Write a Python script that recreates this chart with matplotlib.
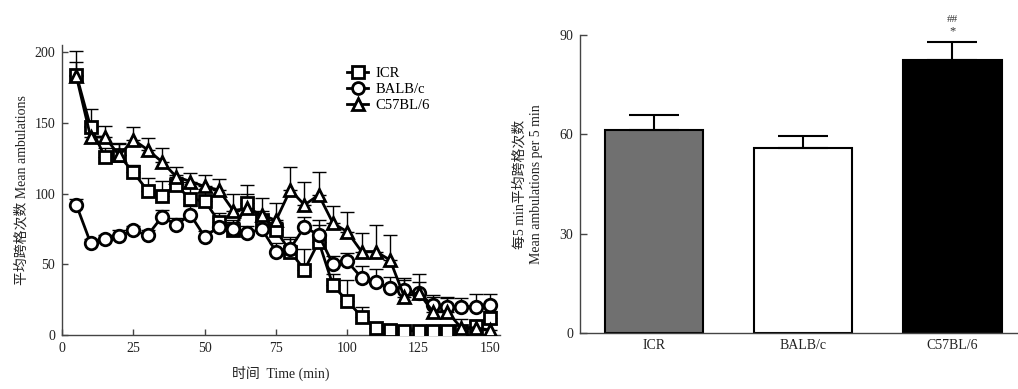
import matplotlib
matplotlib.use("Agg")
import matplotlib.pyplot as plt
import numpy as np

plt.rcParams['font.family'] = ['Liberation Serif', 'Noto Sans CJK SC', 'DejaVu Sans']

# ---- Data: time course ----
time_min = list(range(5, 155, 5))
icr_mean = [184, 147, 126, 127, 115, 102, 98, 106, 96, 95, 80, 74, 93, 81, 74, 59, 46, 66, 35, 24,
            13, 5, 3.5, 3, 3, 2.5, 3, 3, 6, 12]
icr_err = [17, 13, 6, 9, 5, 9, 11, 7, 8, 8, 6, 6, 13, 7, 6, 10, 15, 12, 8, 15,
           7, 3, 2, 2, 2, 1.5, 2, 2, 3, 5]
balb_mean = [92, 65, 68, 70, 74, 70.5, 83.5, 78, 85, 69.5, 76.5, 75, 72, 75, 59, 61, 76.5, 70.5, 50, 52,
             40.5, 37.5, 33, 32, 29.5, 21, 20, 20, 20, 21]
balb_err = [4, 3, 3, 4, 3, 4, 5, 5, 6, 4, 6, 6, 5, 6, 6, 7, 7, 11, 6, 6,
            8, 9, 8, 7, 8, 7, 6, 6, 9, 8]
c57_mean = [183, 140, 140, 127, 138, 131, 122.5, 112, 108.5, 105, 102.5, 88, 89.5, 85, 81, 102.5, 92, 99, 79, 73,
            59, 59, 53, 27, 30, 16.5, 16.5, 5, 5, 3.5]
c57_err = [10, 8, 8, 8, 9, 8, 10, 7, 6, 8, 7.5, 12, 10, 12, 12, 16.5, 16, 16.5, 12, 14,
           13, 19, 18, 13, 13, 10, 10, 6, 5, 4]

# ---- Data: 5-min average ----
strains = ['ICR', 'BALB/c', 'C57BL/6']
avg_mean = [61.3, 56.0, 82.5]
avg_err = [4.6, 3.4, 5.5]
bar_colors = ['#707070', '#ffffff', '#000000']

fig = plt.figure(figsize=(10.18, 3.89), dpi=100)

# ---------------- Left: time course ----------------
ax1 = fig.add_axes([0.061, 0.139, 0.430, 0.745])
series = [
    ('ICR', icr_mean, icr_err, 's'),
    ('BALB/c', balb_mean, balb_err, 'o'),
    ('C57BL/6', c57_mean, c57_err, '^'),
]
for label, m, e, mk in series:
    ax1.errorbar(time_min, m, yerr=[np.zeros(len(e)), e], fmt='none', ecolor='black',
                 elinewidth=1.0, capsize=5, capthick=1.0, zorder=2)
    ax1.plot(time_min, m, color='black', lw=2.0, marker=mk, markersize=9,
             markerfacecolor='white', markeredgecolor='black', markeredgewidth=2.0,
             label=label, zorder=3)

ax1.set_xlim(0, 153.5)
ax1.set_ylim(0, 205)
ax1.set_xticks([0, 25, 50, 75, 100, 125, 150])
ax1.set_yticks([0, 50, 100, 150, 200])
for s in ['top', 'right']:
    ax1.spines[s].set_visible(False)
for s in ['left', 'bottom']:
    ax1.spines[s].set_color('#444444')
    ax1.spines[s].set_linewidth(1.0)
ax1.tick_params(direction='in', length=4, width=1, colors='#444444', labelcolor='#222222',
                labelsize=10, pad=5)
ax1.set_xlabel('时间  Time (min)', fontsize=10, labelpad=8, color='#222222')
ax1.set_ylabel('平均跨格次数 Mean ambulations', fontsize=10, labelpad=4, color='#222222')
leg = ax1.legend(loc='upper left', bbox_to_anchor=(0.62, 0.97), frameon=False, fontsize=10.5,
                 handlelength=1.5, handletextpad=0.5, labelspacing=0.2, markerscale=0.95)

# ---------------- Right: bar chart ----------------
ax2 = fig.add_axes([0.570, 0.144, 0.430, 0.766])
xpos = np.arange(len(strains))
ax2.bar(xpos, avg_mean, width=0.66, color=bar_colors, edgecolor='black', linewidth=1.5, zorder=2)
ax2.errorbar(xpos, avg_mean, yerr=[np.zeros(3), avg_err], fmt='none', ecolor='black',
             elinewidth=1.5, capsize=18, capthick=1.5, zorder=3)
ax2.set_xlim(-0.495, 2.44)
ax2.set_ylim(0, 90)
ax2.set_yticks([0, 30, 60, 90])
ax2.set_xticks(xpos)
ax2.set_xticklabels(strains)
for s in ['top', 'right']:
    ax2.spines[s].set_visible(False)
for s in ['left', 'bottom']:
    ax2.spines[s].set_color('#444444')
    ax2.spines[s].set_linewidth(1.0)
ax2.tick_params(axis='y', direction='in', length=5, width=1, colors='#444444',
                labelcolor='#222222', labelsize=10, pad=5)
ax2.tick_params(axis='x', length=0, labelcolor='#222222', labelsize=10, pad=4)
ax2.set_ylabel('每5 min平均跨格次数\nMean ambulations per 5 min', fontsize=10,
               labelpad=12, color='#222222', linespacing=1.3)
ax2.text(xpos[2], avg_mean[2] + avg_err[2] + 1.2, '*', ha='center', va='bottom',
         fontsize=9, clip_on=False, color='#333333')
ax2.text(xpos[2], avg_mean[2] + avg_err[2] + 5.2, '##', ha='center', va='bottom',
         fontsize=8, clip_on=False, color='#333333')

fig.savefig('out.png', dpi=100)
